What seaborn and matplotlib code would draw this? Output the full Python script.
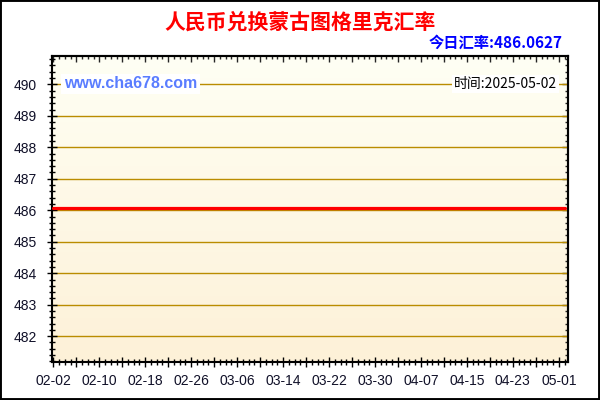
import pandas as pd
import numpy as np
import matplotlib
matplotlib.use("Agg")
import matplotlib.pyplot as plt
import seaborn as sns
from matplotlib.ticker import MultipleLocator, FuncFormatter, NullFormatter
from matplotlib.colors import LinearSegmentedColormap
from matplotlib.patches import Rectangle

# DADOS (TAXA PRATICAMENTE CONSTANTE)
datas = ["2025-02-02", "2025-02-10", "2025-02-18", "2025-02-26", "2025-03-06",
         "2025-03-14", "2025-03-22", "2025-03-30", "2025-04-07", "2025-04-15",
         "2025-04-23", "2025-05-01", "2025-05-02"]
taxas = [486.06, 486.06, 486.06, 486.06, 486.06, 486.06, 486.06,
         486.06, 486.06, 486.06, 486.06, 486.06, 486.06]

titulo = "人民币兑换蒙古图格里克汇率"
taxa_hoje = "今日汇率:486.0627"
site = "www.cha678.com"
data_txt = "时间:2025-05-02"

df = pd.DataFrame({"data": pd.to_datetime(datas), "taxa": taxas})
inicio = df["data"].iloc[0]
df["dia"] = (df["data"] - inicio).dt.days

sns.set_style("ticks")
plt.rcParams["font.family"] = ["Liberation Sans", "Noto Sans CJK SC", "DejaVu Sans"]
cjk = ["Noto Sans CJK SC", "DejaVu Sans"]

fig = plt.figure(figsize=(6, 4), dpi=100)
ax = fig.add_axes([52 / 600, 1 - 362 / 400, (568 - 52) / 600, (362 - 56) / 400])

# FUNDO EM DEGRADÊ
fundo = LinearSegmentedColormap.from_list("fundo", ["#FFFFF4", "#FDF1D8"])
grad = np.linspace(0, 1, 256).reshape(-1, 1)
ax.imshow(grad, cmap=fundo, extent=[0, 1, 0, 1], transform=ax.transAxes,
          aspect="auto", zorder=0)

sns.lineplot(data=df, x="dia", y="taxa", color="#FF0000", linewidth=2.3,
             ax=ax, zorder=3)

ax.set_xlim(-0.23, 89.6)
ax.set_ylim(481.18, 490.9)
ax.set_xlabel("")
ax.set_ylabel("")

def rotulo(x, pos):
    d = int(round(x))
    if d % 8:
        return ""
    return (inicio + pd.Timedelta(days=d)).strftime("%m-%d")

ax.xaxis.set_major_locator(MultipleLocator(4))
ax.xaxis.set_minor_locator(MultipleLocator(1))
ax.xaxis.set_major_formatter(FuncFormatter(rotulo))
ax.yaxis.set_major_locator(MultipleLocator(1))
ax.yaxis.set_minor_locator(MultipleLocator(0.2))
ax.yaxis.set_major_formatter(FuncFormatter(lambda v, p: f"{v:.0f}"))

ax.grid(axis="y", which="major", color="#BA8C00", linewidth=1)
ax.tick_params(axis="both", which="major", direction="inout", length=7,
               width=1, color="black", labelsize=10, labelcolor="#101028")
ax.tick_params(axis="both", which="minor", direction="inout", length=4,
               width=1, color="black")
ax.tick_params(axis="y", which="major", pad=7.5)
ax.tick_params(axis="x", which="major", pad=5)

for s in ax.spines.values():
    s.set_color("black")
    s.set_linewidth(1.5)

# TICKS PARA DENTRO NO TOPO E À DIREITA
topo = ax.secondary_xaxis("top")
topo.xaxis.set_major_locator(MultipleLocator(4))
topo.xaxis.set_minor_locator(MultipleLocator(1))
topo.xaxis.set_major_formatter(NullFormatter())
topo.tick_params(which="major", direction="in", length=4, width=1)
topo.tick_params(which="minor", direction="in", length=2, width=1)
topo.spines["top"].set_linewidth(1.5)

direita = ax.secondary_yaxis("right")
direita.yaxis.set_major_locator(MultipleLocator(1))
direita.yaxis.set_minor_locator(MultipleLocator(0.2))
direita.yaxis.set_major_formatter(NullFormatter())
direita.tick_params(which="major", direction="in", length=4, width=1)
direita.tick_params(which="minor", direction="in", length=2, width=1)
direita.spines["right"].set_linewidth(1.5)

# TEXTOS
fig.text(0.5, 1 - 22 / 400, titulo, ha="center", va="center", color="#FF0000",
         fontsize=15, fontweight="bold", family=cjk)
fig.text(563 / 600, 1 - 43 / 400, taxa_hoje, ha="right", va="center",
         color="#0000FF", fontsize=11, fontweight="bold", family=cjk)
fig.text(64 / 600, 1 - 84 / 400, site, ha="left", va="center", color="#5A7DFF",
         fontsize=11.5, fontweight="bold", family="Liberation Sans",
         bbox=dict(facecolor="white", edgecolor="none", pad=2))
fig.text(557 / 600, 1 - 84 / 400, data_txt, ha="right", va="center",
         color="black", fontsize=10, family=cjk,
         bbox=dict(facecolor="white", edgecolor="none", pad=1.5))

# MOLDURA
fig.patches.append(Rectangle((0, 0), 1, 1, transform=fig.transFigure,
                             fill=False, edgecolor="black", linewidth=2.8))

fig.savefig("out.png", dpi=100)
plt.close()
